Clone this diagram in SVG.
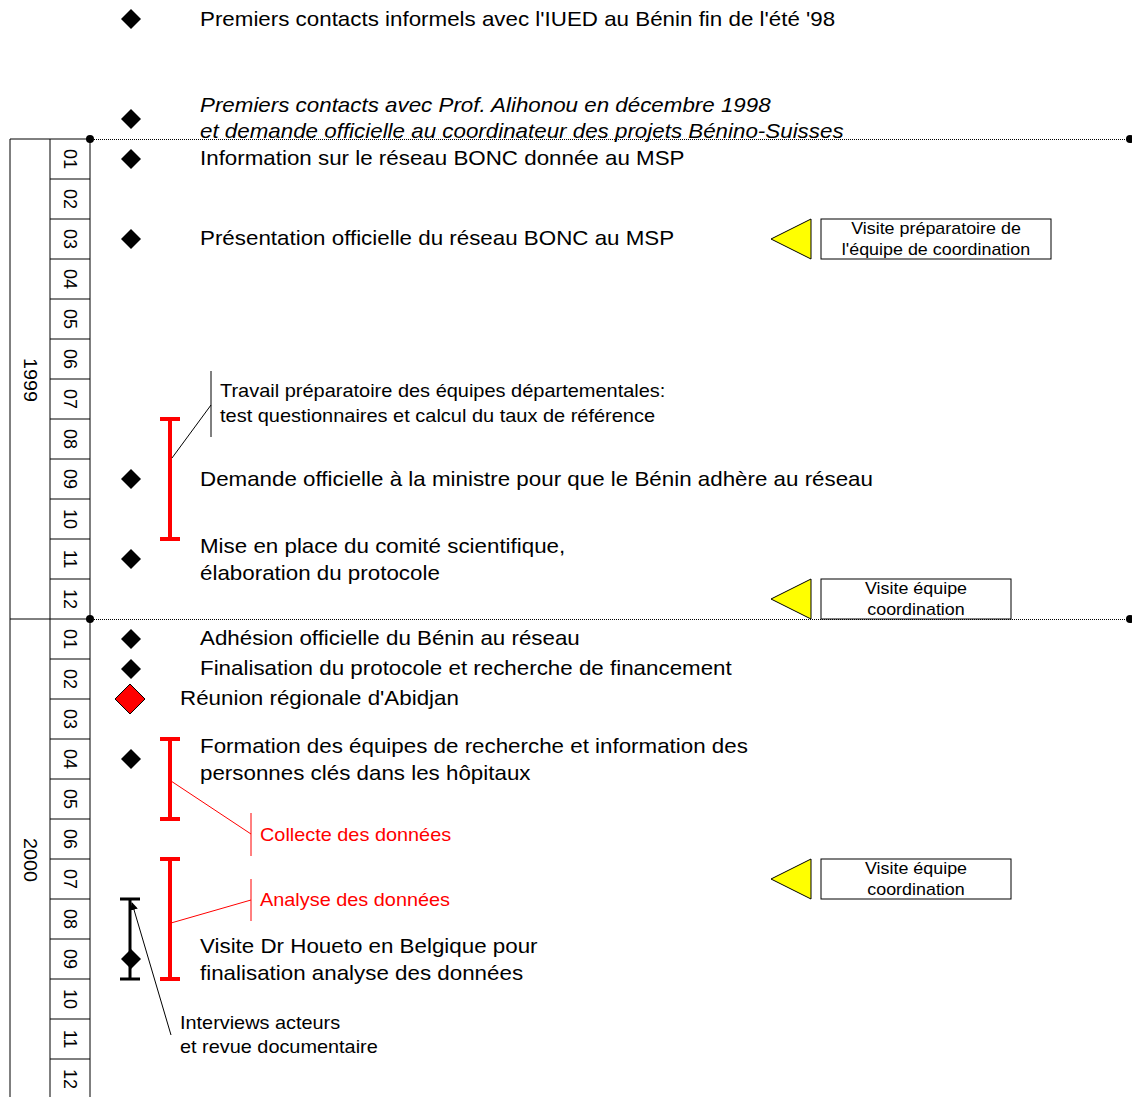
<svg xmlns="http://www.w3.org/2000/svg" width="1132" height="1097" viewBox="0 0 1132 1097">
<style>
text{font-family:"Liberation Sans",Arial,sans-serif;fill:#000}
.m{font-size:20px}
.s{font-size:18px}
.r{fill:#f00}
.b{font-size:16px;text-anchor:middle}
.mo{font-size:18px;text-anchor:middle;dominant-baseline:central}
.grid{stroke:#000;stroke-width:1;fill:none}
.dot{stroke:#000;stroke-width:1;stroke-dasharray:1 1}
.rb{stroke:#f00;stroke-width:4;fill:none}
.tri{fill:#ff0;stroke:#000;stroke-width:1}
.box{fill:#fff;stroke:#000;stroke-width:1}
</style>
<defs>
<path id="d" d="M0,-10 L10,0 L0,10 L-10,0Z"/>
<marker id="ah" markerWidth="8" markerHeight="8" refX="7" refY="4" orient="auto" markerUnits="userSpaceOnUse"><path d="M0,0 L8,4 L0,8Z" fill="#000"/></marker>
</defs>
<g id="timeline">
<path class="grid" d="M10,1097 V139 H90 M50,139 V1097 M90,139 V1097 M10,619 H90"/>
<path class="grid" d="M50,179H90M50,219H90M50,259H90M50,299H90M50,339H90M50,379H90M50,419H90M50,459H90M50,499H90M50,539H90M50,579H90M50,659H90M50,699H90M50,739H90M50,779H90M50,819H90M50,859H90M50,899H90M50,939H90M50,979H90M50,1019H90M50,1059H90"/>
<text class="mo" transform="translate(30,380) rotate(90) scale(1.1,1)">1999</text>
<text class="mo" transform="translate(30,860) rotate(90) scale(1.1,1)">2000</text>
<text class="mo" transform="translate(70,159) rotate(90)">01</text>
<text class="mo" transform="translate(70,199) rotate(90)">02</text>
<text class="mo" transform="translate(70,239) rotate(90)">03</text>
<text class="mo" transform="translate(70,279) rotate(90)">04</text>
<text class="mo" transform="translate(70,319) rotate(90)">05</text>
<text class="mo" transform="translate(70,359) rotate(90)">06</text>
<text class="mo" transform="translate(70,399) rotate(90)">07</text>
<text class="mo" transform="translate(70,439) rotate(90)">08</text>
<text class="mo" transform="translate(70,479) rotate(90)">09</text>
<text class="mo" transform="translate(70,519) rotate(90)">10</text>
<text class="mo" transform="translate(70,559) rotate(90)">11</text>
<text class="mo" transform="translate(70,599) rotate(90)">12</text>
<text class="mo" transform="translate(70,639) rotate(90)">01</text>
<text class="mo" transform="translate(70,679) rotate(90)">02</text>
<text class="mo" transform="translate(70,719) rotate(90)">03</text>
<text class="mo" transform="translate(70,759) rotate(90)">04</text>
<text class="mo" transform="translate(70,799) rotate(90)">05</text>
<text class="mo" transform="translate(70,839) rotate(90)">06</text>
<text class="mo" transform="translate(70,879) rotate(90)">07</text>
<text class="mo" transform="translate(70,919) rotate(90)">08</text>
<text class="mo" transform="translate(70,959) rotate(90)">09</text>
<text class="mo" transform="translate(70,999) rotate(90)">10</text>
<text class="mo" transform="translate(70,1039) rotate(90)">11</text>
<text class="mo" transform="translate(70,1079) rotate(90)">12</text>
<line class="dot" x1="90" y1="139.5" x2="1130" y2="139.5"/>
<line class="dot" x1="90" y1="619.5" x2="1130" y2="619.5"/>
<circle cx="90" cy="139" r="4"/>
<circle cx="1130" cy="139" r="4"/>
<circle cx="90" cy="619" r="4"/>
<circle cx="1130" cy="619" r="4"/>
</g>
<g id="events">
<use href="#d" x="131" y="19"/>
<text class="m" transform="translate(200,26) scale(1.118,1)">Premiers contacts informels avec l'IUED au Bénin fin de l'été '98</text>
<use href="#d" x="131" y="119"/>
<text class="m" transform="translate(200,112) scale(1.118,1)" font-style="italic">Premiers contacts avec Prof. Alihonou en décembre 1998</text>
<text class="m" transform="translate(200,138) scale(1.118,1)" font-style="italic">et demande officielle au coordinateur des projets Bénino-Suisses</text>
<use href="#d" x="131" y="159"/>
<text class="m" transform="translate(200,165) scale(1.118,1)">Information sur le réseau BONC donnée au MSP</text>
<use href="#d" x="131" y="239"/>
<text class="m" transform="translate(200,245) scale(1.118,1)">Présentation officielle du réseau BONC au MSP</text>
<use href="#d" x="131" y="479"/>
<text class="m" transform="translate(200,486) scale(1.118,1)">Demande officielle à la ministre pour que le Bénin adhère au réseau</text>
<use href="#d" x="131" y="559"/>
<text class="m" transform="translate(200,553) scale(1.118,1)">Mise en place du comité scientifique,</text>
<text class="m" transform="translate(200,580) scale(1.118,1)">élaboration du protocole</text>
<use href="#d" x="131" y="639"/>
<text class="m" transform="translate(200,645) scale(1.118,1)">Adhésion officielle du Bénin au réseau</text>
<use href="#d" x="131" y="669"/>
<text class="m" transform="translate(200,675) scale(1.118,1)">Finalisation du protocole et recherche de financement</text>
<path d="M130,684 L145,699 L130,714 L115,699Z" fill="#f00" stroke="#000" stroke-width="1"/>
<text class="m" transform="translate(180,705) scale(1.118,1)">Réunion régionale d'Abidjan</text>
<use href="#d" x="131" y="759"/>
<text class="m" transform="translate(200,753) scale(1.118,1)">Formation des équipes de recherche et information des</text>
<text class="m" transform="translate(200,780) scale(1.118,1)">personnes clés dans les hôpitaux</text>
<use href="#d" x="131" y="959"/>
<text class="m" transform="translate(200,953) scale(1.118,1)">Visite Dr Houeto en Belgique pour</text>
<text class="m" transform="translate(200,980) scale(1.118,1)">finalisation analyse des données</text>
</g>
<g id="periods">
<path class="rb" d="M160,419H180M170,419V539M160,539H180"/>
<path class="rb" d="M160,739H180M170,739V819M160,819H180"/>
<path class="rb" d="M160,859H180M170,859V979M160,979H180"/>
<path d="M120,899H140M130,899V979M120,979H140" stroke="#000" stroke-width="3" fill="none"/>
<text class="s" transform="translate(220,397) scale(1.11,1)">Travail préparatoire des équipes départementales:</text>
<text class="s" transform="translate(220,422) scale(1.11,1)">test questionnaires et calcul du taux de référence</text>
<text class="s r" transform="translate(260,841) scale(1.105,1)">Collecte des données</text>
<text class="s r" transform="translate(260,906) scale(1.105,1)">Analyse des données</text>
<text class="s" transform="translate(180,1029) scale(1.105,1)">Interviews acteurs</text>
<text class="s" transform="translate(180,1053) scale(1.105,1)">et revue documentaire</text>
</g>
<g id="connectors">
<path d="M172,458 L211,405 M211,371 V437" stroke="#000" stroke-width="1" fill="none"/>
<path d="M171,781 L251,834 M251,813 V856" stroke="#f00" stroke-width="1" fill="none"/>
<path d="M171,923 L251,900 M251,879 V921" stroke="#f00" stroke-width="1" fill="none"/>
<line x1="171" y1="1035" x2="132" y2="903" stroke="#000" stroke-width="1" marker-end="url(#ah)"/>
</g>
<g id="visit1">
<path class="tri" d="M771,239 L811,219 L811,259Z"/>
<rect class="box" x="821" y="219" width="230" height="40"/>
<text class="b" transform="translate(936,234) scale(1.118,1)">Visite préparatoire de</text>
<text class="b" transform="translate(936,255) scale(1.118,1)">l'équipe de coordination</text>
</g>
<g id="visit2">
<path class="tri" d="M771,599 L811,579 L811,619Z"/>
<rect class="box" x="821" y="579" width="190" height="40"/>
<text class="b" transform="translate(916,594) scale(1.118,1)">Visite équipe</text>
<text class="b" transform="translate(916,615) scale(1.118,1)">coordination</text>
</g>
<g id="visit3">
<path class="tri" d="M771,879 L811,859 L811,899Z"/>
<rect class="box" x="821" y="859" width="190" height="40"/>
<text class="b" transform="translate(916,874) scale(1.118,1)">Visite équipe</text>
<text class="b" transform="translate(916,895) scale(1.118,1)">coordination</text>
</g>
</svg>
